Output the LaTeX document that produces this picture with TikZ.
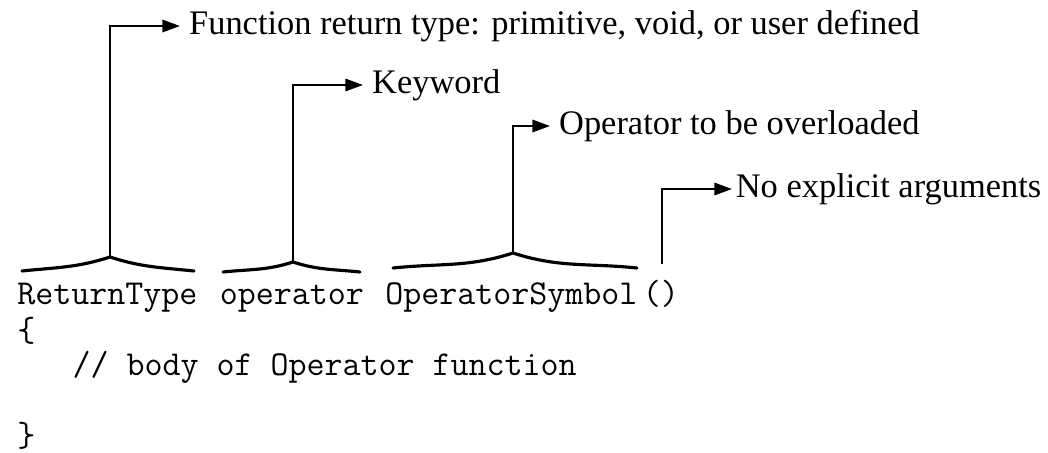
\documentclass[tikz,border=0pt]{standalone}
\usepackage{fontspec}
\setmainfont{Liberation Serif}
\usepackage{tikz}
\usetikzlibrary{positioning, arrows.meta}

\begin{document}
\begin{tikzpicture}[x=0.02cm, y=-0.02cm,
        code/.style={font=\ttfamily\fontsize{19.9}{22}\selectfont, inner sep=0pt, anchor=base west},
        lbl/.style={font=\fontsize{19.6}{22}\selectfont, anchor=west, inner ysep=0pt, inner xsep=5pt, text height=10pt, text depth=0pt},
        hat/.style={line width=1.8pt, line cap=round},
        arr/.style={-{Triangle[length=10pt, width=7pt]}, line width=1.2pt}]
        \useasboundingbox (0,0) rectangle (1048,453);
        % code lines
        \node[code] (rtype) at (17,304)    {ReturnType};
        \node[code] (kw)    at (219.4,304) {operator};
        \node[code] (sym)   at (385,304)   {OperatorSymbol};
        \node[code] (args)  at (642.6,304) {()};
        \node[code] (open)  at (17,341)    {\{};
        \node[code] (body)  at (72.2,375)  {// body of Operator function};
        \node[code] (close) at (17,446)    {\}};
        % braces over the tokens
        \draw[hat] (22,271) to[out=6,in=198] (110,257) coordinate (rtApex) to[out=-18,in=174] (194,271);
        \draw[hat] (223,272) to[out=6,in=198] (293,262) coordinate (kwApex) to[out=-18,in=174] (360,272);
        \draw[hat] (393,268) to[out=6,in=198] (513,253) coordinate (symApex) to[out=-18,in=174] (637,268);
        \coordinate (argsTop) at (662,264);
        % labels
        \node[lbl] (rtLbl)  at (180,26)  {Function return type: primitive, void, or user defined};
        \node[lbl] (kwLbl)  at (363,85)  {Keyword};
        \node[lbl] (symLbl) at (550,126) {Operator to be overloaded};
        \node[lbl, inner xsep=2pt] (argLbl) at (732,189) {No explicit arguments};
        \draw[arr] (rtApex) |- (rtLbl.west);
        \draw[arr] (kwApex) |- (kwLbl.west);
        \draw[arr] (symApex) |- (symLbl.west);
        \draw[arr] (argsTop) |- (argLbl.west);
      \end{tikzpicture}
\end{document}
